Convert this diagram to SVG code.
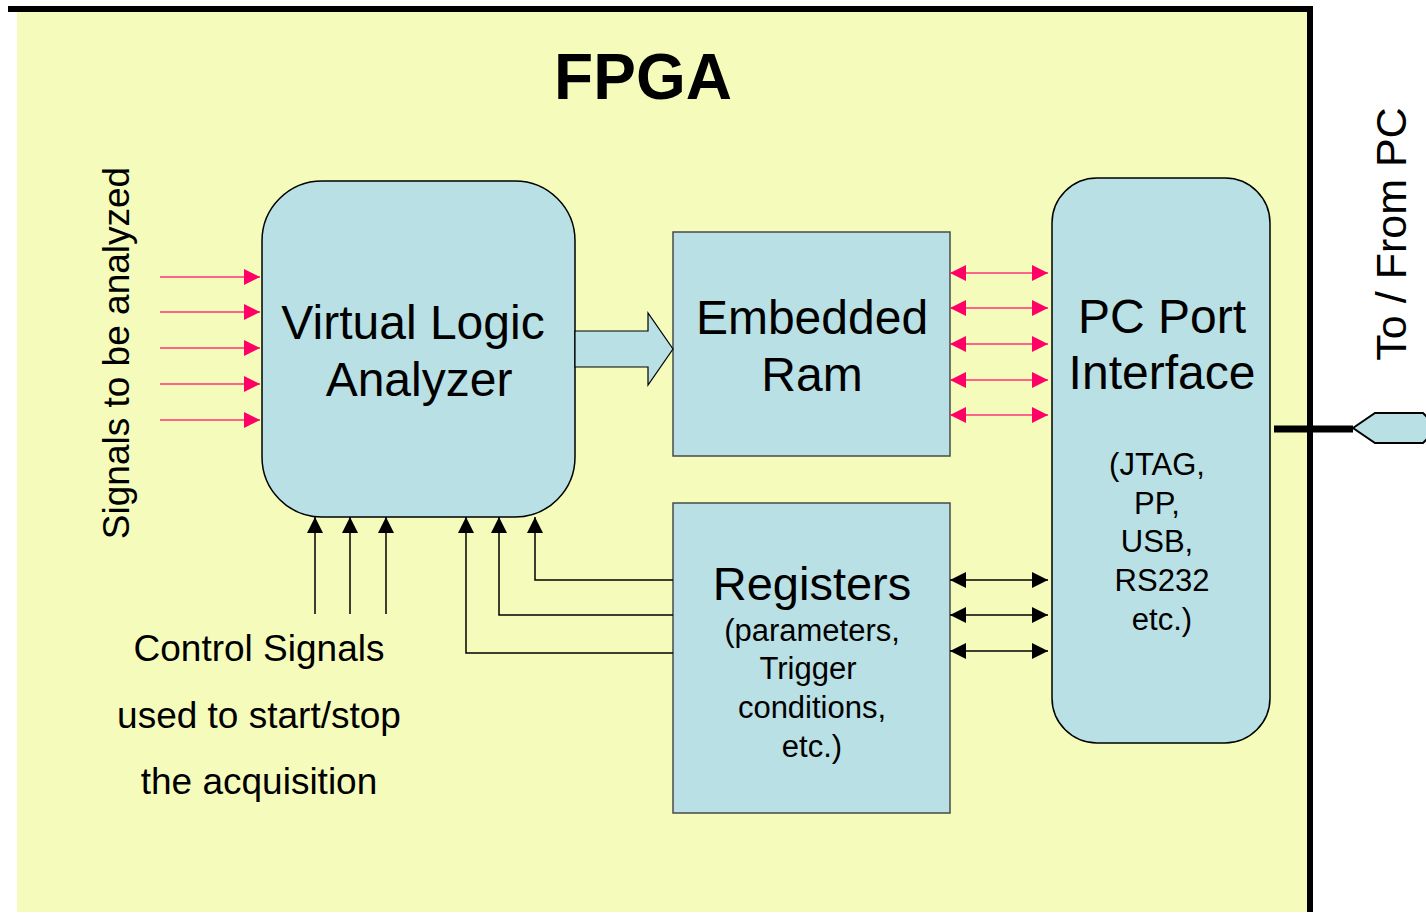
<svg xmlns="http://www.w3.org/2000/svg" width="1426" height="914" viewBox="0 0 1426 914">
<style>
.t{font-family:"Liberation Sans",Arial,sans-serif;fill:#000;text-anchor:middle}
.blk{fill:#B9E0E4;stroke:#000;stroke-width:1.5}
.sq{fill:#B9E0E4;stroke:#4a4a4a;stroke-width:1.5}
.pk{stroke:#FF3377;stroke-width:1.5;fill:none}
.bk{stroke:#000;stroke-width:1.5;fill:none}
</style>
<defs>
<marker id="pe" viewBox="0 0 16 16" refX="16" refY="8" markerWidth="16" markerHeight="16" markerUnits="userSpaceOnUse" orient="auto-start-reverse"><path d="M0,0 L16,8 L0,16 Z" fill="#FF0066"/></marker>
<marker id="be" viewBox="0 0 16 16" refX="16" refY="8" markerWidth="16" markerHeight="16" markerUnits="userSpaceOnUse" orient="auto-start-reverse"><path d="M0,0 L16,8 L0,16 Z" fill="#000"/></marker>
</defs>
<rect width="1426" height="914" fill="#fff"/>
<g id="fpga">
<rect x="17" y="12" width="1290" height="900" fill="#F5FCBB"/>
<line x1="8" y1="9" x2="1313" y2="9" stroke="#000" stroke-width="6"/>
<line x1="1310" y1="6" x2="1310" y2="912" stroke="#000" stroke-width="6"/>
<text class="t" x="643" y="99" font-size="64" font-weight="bold">FPGA</text>
</g>
<g id="vla">
<rect class="blk" x="262" y="181" width="313" height="336" rx="60"/>
<text class="t" x="413" y="339" font-size="48">Virtual Logic</text>
<text class="t" x="419" y="396" font-size="48">Analyzer</text>
</g>
<g id="ram">
<rect class="sq" x="673" y="232" width="277" height="224"/>
<text class="t" x="812" y="334" font-size="48">Embedded</text>
<text class="t" x="812" y="391" font-size="48">Ram</text>
</g>
<g id="registers">
<rect class="sq" x="673" y="503" width="277" height="310"/>
<text class="t" x="812" y="600" font-size="47">Registers</text>
<text class="t" x="812" y="641" font-size="31">(parameters,</text>
<text class="t" x="808" y="679" font-size="31">Trigger</text>
<text class="t" x="812" y="718" font-size="31">conditions,</text>
<text class="t" x="812" y="757" font-size="31">etc.)</text>
</g>
<g id="pcport">
<rect class="blk" x="1052" y="178" width="218" height="565" rx="45"/>
<text class="t" x="1162" y="333" font-size="48">PC Port</text>
<text class="t" x="1162" y="389" font-size="48">Interface</text>
<text class="t" x="1157" y="475" font-size="31">(JTAG,</text>
<text class="t" x="1157" y="514" font-size="31">PP,</text>
<text class="t" x="1157" y="552" font-size="31">USB,</text>
<text class="t" x="1162" y="591" font-size="31">RS232</text>
<text class="t" x="1162" y="630" font-size="31">etc.)</text>
</g>
<g id="port">
<path d="M1353,428 L1375,413 L1423,413 L1438,428 L1423,443 L1375,443 Z" fill="#B9E0E4" stroke="#000" stroke-width="2"/>
<text class="t" transform="translate(1406,234) rotate(-90)" font-size="43">To / From PC</text>
</g>
<g id="labels">
<text class="t" transform="translate(129,353) rotate(-90)" font-size="37">Signals to be analyzed</text>
<text class="t" x="259" y="661" font-size="37">Control Signals</text>
<text class="t" x="259" y="728" font-size="37">used to start/stop</text>
<text class="t" x="259" y="794" font-size="37">the acquisition</text>
</g>
<g id="connectors">
<path d="M575,331 L648,331 L648,313 L673,349 L648,385 L648,367 L575,367 Z" fill="#B9E0E4" stroke="#000" stroke-width="1.2"/>
<line class="pk" x1="160" y1="277" x2="260" y2="277" marker-end="url(#pe)"/>
<line class="pk" x1="160" y1="312" x2="260" y2="312" marker-end="url(#pe)"/>
<line class="pk" x1="160" y1="348" x2="260" y2="348" marker-end="url(#pe)"/>
<line class="pk" x1="160" y1="384" x2="260" y2="384" marker-end="url(#pe)"/>
<line class="pk" x1="160" y1="420" x2="260" y2="420" marker-end="url(#pe)"/>
<line class="pk" x1="950" y1="273" x2="1048" y2="273" marker-start="url(#pe)" marker-end="url(#pe)"/>
<line class="pk" x1="950" y1="308" x2="1048" y2="308" marker-start="url(#pe)" marker-end="url(#pe)"/>
<line class="pk" x1="950" y1="344" x2="1048" y2="344" marker-start="url(#pe)" marker-end="url(#pe)"/>
<line class="pk" x1="950" y1="380" x2="1048" y2="380" marker-start="url(#pe)" marker-end="url(#pe)"/>
<line class="pk" x1="950" y1="415" x2="1048" y2="415" marker-start="url(#pe)" marker-end="url(#pe)"/>
<line class="bk" x1="950" y1="580" x2="1048" y2="580" marker-start="url(#be)" marker-end="url(#be)"/>
<line class="bk" x1="950" y1="615" x2="1048" y2="615" marker-start="url(#be)" marker-end="url(#be)"/>
<line class="bk" x1="950" y1="651" x2="1048" y2="651" marker-start="url(#be)" marker-end="url(#be)"/>
<line class="bk" x1="315" y1="614" x2="315" y2="517" marker-end="url(#be)"/>
<line class="bk" x1="350" y1="614" x2="350" y2="517" marker-end="url(#be)"/>
<line class="bk" x1="386" y1="614" x2="386" y2="517" marker-end="url(#be)"/>
<path class="bk" d="M673,580 L535,580 L535,517" marker-end="url(#be)"/>
<path class="bk" d="M673,615 L499,615 L499,517" marker-end="url(#be)"/>
<path class="bk" d="M673,653 L466,653 L466,517" marker-end="url(#be)"/>
<line x1="1274" y1="429" x2="1353" y2="429" stroke="#000" stroke-width="7"/>
</g>
</svg>
